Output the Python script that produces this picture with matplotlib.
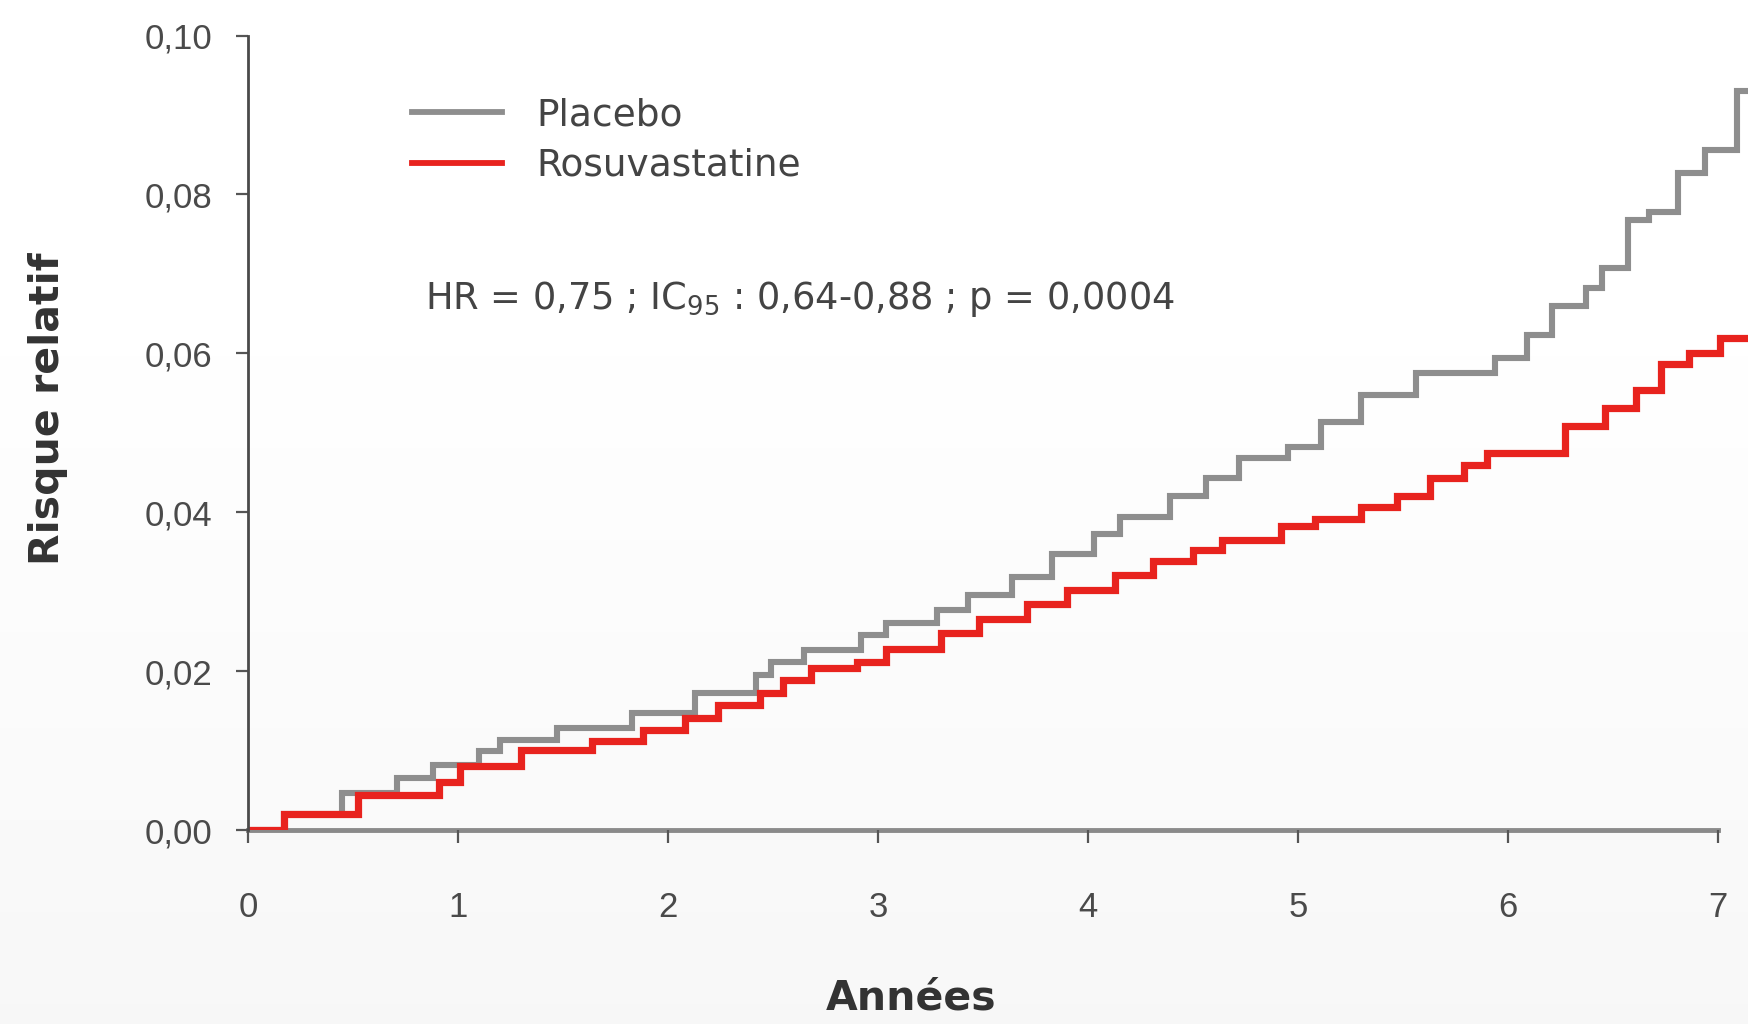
import matplotlib
matplotlib.use("Agg")
import matplotlib.pyplot as plt
import numpy as np

plt.rcParams['font.family'] = ['Liberation Sans', 'DejaVu Sans']
plt.rcParams['mathtext.fontset'] = 'custom'
plt.rcParams['mathtext.rm'] = 'DejaVu Sans'

# ---- data ----
placebo_t = [0, 0.17, 0.45, 0.71, 0.88, 1.10, 1.20, 1.47, 1.83, 2.13, 2.42, 2.49, 2.65,
             2.92, 3.04, 3.28, 3.43, 3.64, 3.83, 4.03, 4.15, 4.39, 4.56, 4.72, 4.95,
             5.11, 5.30, 5.56, 5.94, 6.09, 6.21, 6.37, 6.45, 6.57, 6.67, 6.81, 6.94,
             7.09, 7.15]
placebo_v = [0, 0.0020, 0.0047, 0.0065, 0.0082, 0.0099, 0.0113, 0.0128, 0.0147, 0.0172,
             0.0195, 0.0212, 0.0227, 0.0245, 0.0260, 0.0277, 0.0296, 0.0319, 0.0348,
             0.0373, 0.0394, 0.0420, 0.0443, 0.0468, 0.0482, 0.0514, 0.0548, 0.0575,
             0.0594, 0.0623, 0.0659, 0.0682, 0.0707, 0.0768, 0.0778, 0.0827, 0.0856,
             0.0930, 0.0930]
rosu_t = [0, 0.17, 0.525, 0.91, 1.01, 1.30, 1.64, 1.88, 2.08, 2.24, 2.44, 2.55, 2.68,
          2.90, 3.04, 3.30, 3.48, 3.71, 3.90, 4.13, 4.31, 4.50, 4.64, 4.92, 5.08,
          5.30, 5.47, 5.63, 5.79, 5.90, 6.27, 6.46, 6.61, 6.73, 6.86, 7.01, 7.15]
rosu_v = [0, 0.0020, 0.0044, 0.0061, 0.0080, 0.0101, 0.0112, 0.0126, 0.0141, 0.0157,
          0.0172, 0.0189, 0.0204, 0.0212, 0.0228, 0.0248, 0.0265, 0.0285, 0.0302,
          0.0321, 0.0338, 0.0352, 0.0365, 0.0383, 0.0392, 0.0407, 0.0420, 0.0443,
          0.0459, 0.0474, 0.0508, 0.0531, 0.0554, 0.0587, 0.0600, 0.0619, 0.0619]
x_ticks = [0, 1, 2, 3, 4, 5, 6, 7]
y_ticks = [0.00, 0.02, 0.04, 0.06, 0.08, 0.10]
y_ticklabels = ['0,00', '0,02', '0,04', '0,06', '0,08', '0,10']
series_names = ['Placebo', 'Rosuvastatine']
annotation = r'HR = 0,75 ; IC$_\mathregular{95}$ : 0,64-0,88 ; p = 0,0004'

W, H = 1748, 1024
fig = plt.figure(figsize=(W / 100, H / 100), dpi=100)
fig.patch.set_facecolor('white')

# subtle background haze at bottom
bg = fig.add_axes([0, 0, 1, 1], zorder=-10)
grad = np.linspace(0, 1, 256).reshape(-1, 1)
bg.imshow(np.clip((grad - 0.3) / 0.7, 0, 1) * 0.06, cmap='Greys', vmin=0, vmax=1,
          aspect='auto', extent=[0, 1, 0, 1], origin='upper')
bg.axis('off')

x0, y0 = 248 / W, (H - 830) / H
ax = fig.add_axes([x0, y0, 1 - x0, (830 - 35.6) / H])
ax.patch.set_alpha(0)

ax.step(placebo_t, placebo_v, where='post', color='#8e8e8e', lw=4.4,
        label=series_names[0], solid_joinstyle='miter')
ax.step(rosu_t, rosu_v, where='post', color='#e8231e', lw=5.2,
        label=series_names[1], solid_joinstyle='miter')

ax.set_xlim(0, (W - 248) / 210)
ax.set_ylim(0, 0.10)
for s in ['top', 'right']:
    ax.spines[s].set_visible(False)
ax.spines['bottom'].set_bounds(0, 7)
ax.spines['bottom'].set_color('#8a8a8a')
ax.spines['bottom'].set_linewidth(3.5)
ax.spines['bottom'].set_zorder(1)
ax.spines['left'].set_color('#4a4a4a')
ax.spines['left'].set_linewidth(2)

ax.set_xticks(x_ticks)
ax.set_xticklabels([str(v) for v in x_ticks])
ax.set_yticks(y_ticks)
ax.set_yticklabels(y_ticklabels)
ax.tick_params(axis='x', direction='out', length=9, width=1.6, color='#555555',
               labelsize=25, labelcolor='#4a4a4a', pad=35)
ax.tick_params(axis='y', direction='out', length=9, width=1.6, color='#555555',
               labelsize=25, labelcolor='#4a4a4a', pad=17)

fig.text(911 / W, 1 - 999 / H, 'Années', ha='center', va='center',
         fontsize=29.5, fontweight='bold', color='#333333', family='DejaVu Sans')
fig.text(48 / W, 1 - 409 / H, 'Risque relatif', ha='center', va='center',
         rotation=90, fontsize=29.5, fontweight='bold', color='#333333',
         family='DejaVu Sans')

leg = ax.legend(loc='upper left', bbox_to_anchor=(412 / W, 1 - 97 / H),
                bbox_transform=fig.transFigure, frameon=False,
                prop={'family': 'DejaVu Sans', 'size': 27},
                handlelength=2.4, handletextpad=0.93, labelspacing=0.39,
                borderpad=0, borderaxespad=0)
for t in leg.get_texts():
    t.set_color('#444444')
for l in leg.get_lines():
    l.set_linewidth(4.2)

fig.text(425 / W, 1 - 299 / H, annotation, ha='left', va='center',
         fontsize=26.5, color='#444444', family='DejaVu Sans')

fig.savefig('out.png', dpi=100, facecolor=fig.get_facecolor())
